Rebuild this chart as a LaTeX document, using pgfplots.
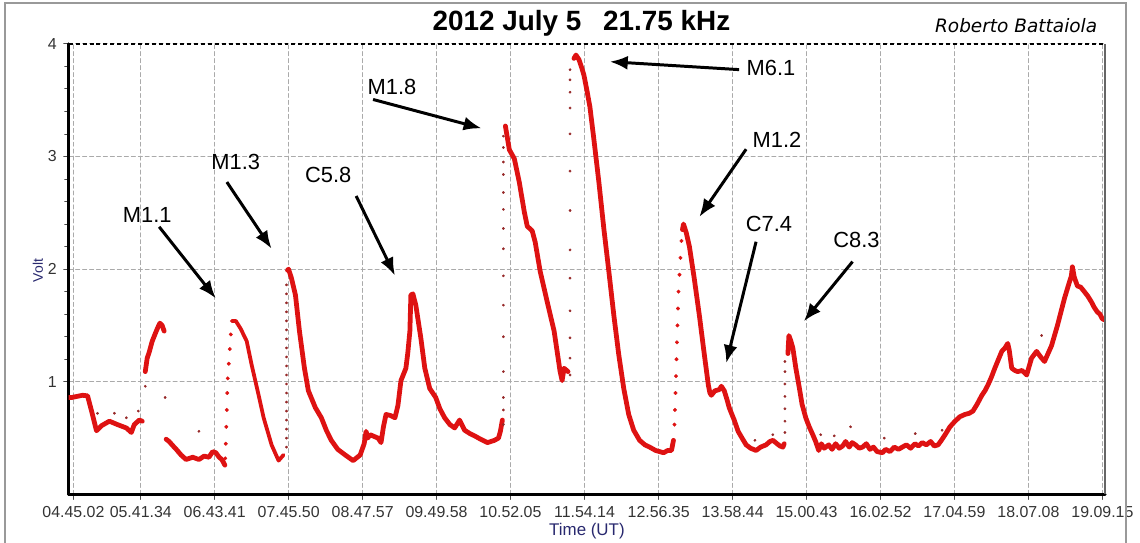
\documentclass[border=0pt]{standalone}
\usepackage{pgfplots}
\pgfplotsset{compat=1.18}
\usepackage{fontspec}
\setmainfont{Liberation Sans}
\newfontfamily\signfont{DejaVu Sans}
\usepackage{graphicx}
\usetikzlibrary{arrows.meta}
\definecolor{sigred}{RGB}{222,18,18}
\definecolor{dotred}{RGB}{150,40,40}
\definecolor{navy}{RGB}{40,40,110}
\definecolor{gridgray}{RGB}{170,170,170}

\begin{document}
\begin{tikzpicture}
\begin{axis}[
  at={(0,0)}, anchor=south west,
  scale only axis, width=521pt, height=226.5pt,
  xmin=4.6832, xmax=19.194, ymin=0, ymax=4,
  axis x line*=bottom, axis y line*=left,
  axis line style={black, line width=1.5pt},
  xtick={4.7506,5.6928,6.7281,7.7639,8.7992,9.8328,10.8681,11.9039,12.9431,13.9789,15.0119,16.0478,17.0831,18.1189,19.1542},
  xticklabels={04.45.02,05.41.34,06.43.41,07.45.50,08.47.57,09.49.58,10.52.05,11.54.14,12.56.35,13.58.44,15.00.43,16.02.52,17.04.59,18.07.08,19.09.15},
  ytick={1,2,3,4}, yticklabels={1,2,3,4},
  minor x tick num=9, minor y tick num=4,
  tick align=outside, major tick length=2.5pt, minor tick length=2pt,
  tick style={black!70, line width=0.4pt},
  ticklabel style={font=\fontsize{8}{9}\selectfont, text=black!80},
  grid=major,
  major grid style={gridgray, dash pattern=on 2pt off 1.5pt, line width=0.5pt},
  line join=round, line cap=round,
  sig/.style={sigred, line width=2.4pt},
  dots/.style={only marks, mark=*, line width=0.2pt},
]
% signal segments
\addplot[sig] coordinates {
(4.683,0.86) (4.725,0.86) (4.800,0.87) (4.878,0.88) (4.948,0.875) (5.004,0.74)
(5.073,0.565) (5.143,0.61) (5.254,0.65) (5.366,0.62) (5.491,0.59) (5.561,0.55)
(5.602,0.62) (5.672,0.66) (5.714,0.65)};
\addplot[sig] coordinates {
(5.756,1.09) (5.783,1.21) (5.810,1.26) (5.853,1.36) (5.923,1.47) (5.960,1.52)
(5.992,1.50) (6.020,1.45)};
\addplot[sig] coordinates {
(6.048,0.49) (6.090,0.47) (6.131,0.44) (6.190,0.40) (6.257,0.35) (6.327,0.31)
(6.420,0.33) (6.507,0.31) (6.580,0.34) (6.647,0.33) (6.700,0.38) (6.744,0.37)
(6.790,0.33) (6.828,0.31) (6.870,0.26)};
\addplot[sig, line width=1.9pt] coordinates {
(6.967,1.54) (7.023,1.54) (7.092,1.47) (7.176,1.36) (7.245,1.15) (7.343,0.88)
(7.413,0.68) (7.524,0.44) (7.622,0.30) (7.691,0.35)};
\addplot[sig] coordinates {
(7.747,1.99) (7.761,2.00) (7.802,1.92) (7.858,1.77) (7.914,1.45) (7.984,1.12)
(8.039,0.92) (8.137,0.77) (8.221,0.68) (8.290,0.57) (8.360,0.48) (8.450,0.40)
(8.555,0.35) (8.666,0.30) (8.764,0.35) (8.820,0.45) (8.847,0.56) (8.870,0.50)
(8.903,0.53) (9.014,0.50) (9.056,0.46) (9.090,0.60) (9.126,0.71) (9.190,0.70)
(9.251,0.68) (9.293,0.79) (9.335,1.01) (9.404,1.12) (9.430,1.25) (9.460,1.45)
(9.474,1.77) (9.502,1.78) (9.543,1.68) (9.613,1.39) (9.669,1.12) (9.738,0.94)
(9.822,0.86) (9.880,0.76) (9.947,0.68) (10.020,0.62) (10.087,0.59) (10.156,0.66)
(10.226,0.57) (10.300,0.54) (10.365,0.52) (10.450,0.49) (10.546,0.46)
(10.644,0.48) (10.700,0.50) (10.727,0.56) (10.755,0.66)};
\addplot[sig] coordinates {
(10.797,3.27) (10.852,3.06) (10.922,2.98) (10.992,2.77) (11.061,2.51)
(11.103,2.38) (11.172,2.34) (11.214,2.24) (11.284,1.98) (11.382,1.71)
(11.479,1.45) (11.521,1.27) (11.563,1.09) (11.591,1.01) (11.618,1.12) (11.674,1.09)};
\addplot[sig] coordinates {
(11.757,3.87) (11.785,3.90) (11.827,3.86) (11.869,3.78) (11.897,3.72)
(11.940,3.58) (11.980,3.44) (12.036,3.15) (12.106,2.77) (12.175,2.36)
(12.245,1.98) (12.315,1.59) (12.384,1.24) (12.454,0.94) (12.523,0.71)
(12.593,0.57) (12.676,0.48) (12.750,0.44) (12.816,0.42) (12.900,0.39)
(13.011,0.37) (13.070,0.39) (13.122,0.39) (13.150,0.48)};
\addplot[sig] coordinates {
(13.276,2.35) (13.290,2.40) (13.330,2.32) (13.373,2.20) (13.440,1.92)
(13.512,1.59) (13.580,1.25) (13.638,0.97) (13.660,0.90) (13.680,0.88)
(13.730,0.92) (13.791,0.93) (13.820,0.96) (13.861,0.92) (13.900,0.84)
(13.930,0.77) (14.000,0.66) (14.055,0.56) (14.110,0.50) (14.167,0.44)
(14.230,0.41) (14.306,0.39) (14.370,0.42) (14.446,0.44) (14.500,0.47)
(14.543,0.48) (14.600,0.45) (14.640,0.43) (14.682,0.42) (14.700,0.45)};
\addplot[sig] coordinates {
(14.752,1.25) (14.766,1.41) (14.794,1.36) (14.821,1.30) (14.863,1.12)
(14.905,0.97) (14.950,0.80) (15.002,0.68) (15.050,0.60) (15.100,0.53)
(15.140,0.47) (15.183,0.39) (15.220,0.45) (15.260,0.41) (15.323,0.44)
(15.370,0.40) (15.420,0.45) (15.470,0.41) (15.518,0.43) (15.560,0.47)
(15.610,0.42) (15.650,0.46) (15.699,0.44) (15.750,0.41) (15.796,0.42)
(15.850,0.45) (15.900,0.40) (15.950,0.42) (16.000,0.38) (16.075,0.37)
(16.120,0.40) (16.180,0.38) (16.240,0.42) (16.300,0.40) (16.353,0.42)
(16.410,0.44) (16.470,0.41) (16.530,0.45) (16.580,0.43) (16.632,0.46)
(16.690,0.44) (16.750,0.47) (16.800,0.43) (16.854,0.44) (16.900,0.48)
(16.952,0.53) (17.020,0.60) (17.091,0.65) (17.160,0.69) (17.230,0.71)
(17.290,0.72) (17.342,0.74) (17.400,0.80) (17.467,0.88) (17.510,0.92)
(17.551,0.97) (17.600,1.04) (17.648,1.12) (17.700,1.20) (17.746,1.27)
(17.790,1.30) (17.829,1.34) (17.850,1.28) (17.885,1.12) (17.930,1.10)
(17.968,1.09) (18.030,1.10) (18.094,1.06) (18.130,1.14) (18.163,1.21)
(18.233,1.27) (18.290,1.22) (18.344,1.18) (18.400,1.26) (18.442,1.32)
(18.525,1.50) (18.623,1.74) (18.690,1.88) (18.720,1.94) (18.734,2.02)
(18.760,1.93) (18.804,1.85) (18.850,1.84) (18.901,1.80) (18.950,1.76)
(18.999,1.71) (19.040,1.66) (19.082,1.62) (19.120,1.60) (19.152,1.56) (19.180,1.55)};
% fast rises, sampled sparsely
\addplot[dots, mark size=0.9pt, sigred] coordinates {
(6.876,0.32) (6.883,0.45) (6.890,0.60) (6.897,0.75) (6.904,0.90) (6.911,1.03)
(6.925,1.16) (6.939,1.29) (6.953,1.42)
(13.164,0.62) (13.171,0.75) (13.178,0.90) (13.185,1.05) (13.192,1.20)
(13.199,1.35) (13.206,1.50) (13.213,1.65) (13.220,1.80) (13.234,1.95)
(13.248,2.10) (13.262,2.25)};
% isolated samples
\addplot[dots, mark size=0.6pt, dotred] coordinates {
(7.733,0.42) (7.733,0.50) (7.733,0.58) (7.733,0.66) (7.733,0.74) (7.733,0.82)
(7.733,0.90) (7.733,0.98) (7.733,1.06) (7.733,1.14) (7.733,1.22) (7.733,1.30)
(7.733,1.38) (7.733,1.46) (7.733,1.54) (7.733,1.62) (7.733,1.70) (7.733,1.78)
(7.733,1.86)
(10.769,0.62) (10.769,0.75) (10.769,0.86) (10.769,1.09) (10.769,1.40)
(10.769,1.68) (10.769,1.94) (10.769,2.18) (10.769,2.36) (10.769,2.53)
(10.769,2.68) (10.769,2.84) (10.769,2.95) (10.769,3.08) (10.769,3.18)
(11.702,1.06) (11.702,1.21) (11.702,1.39) (11.702,1.63) (11.702,1.92)
(11.702,2.17) (11.702,2.52) (11.702,2.87) (11.702,3.20) (11.702,3.43)
(11.702,3.57) (11.702,3.68) (11.702,3.77)
(14.710,0.55) (14.710,0.65) (14.710,0.76) (14.710,0.87) (14.710,0.98)
(14.710,1.09) (14.710,1.18)
(5.087,0.72) (5.324,0.72) (5.491,0.68) (5.658,0.74) (5.756,0.96) (6.034,0.86)
(6.507,0.56) (14.290,0.48) (14.540,0.53) (15.211,0.53) (15.400,0.52)
(15.629,0.60) (16.100,0.50) (16.534,0.54) (16.910,0.57) (18.303,1.41)};
\end{axis}

\begin{scope}[x=0.5pt, y=-0.5pt, shift={(-34.5pt,248.5pt)}]
\useasboundingbox (0,0) rectangle (1140,545);
% window frame
\draw[black!40, line width=1pt] (5,560) -- (5,3) -- (1132,3) -- (1132,560);
% plot box top and right
\draw[black, line width=0.8pt, dash pattern=on 2pt off 1.5pt] (69,44) -- (1111,44);
\draw[black!60, line width=0.8pt] (1111,44) -- (1111,497);
% titles
\node[font=\fontsize{14}{16}\selectfont\bfseries] at (584.5,23)
  {2012 July 5\hspace{11pt}21.75 kHz};
\node[anchor=east] at (1110,26)
  {\resizebox{81.5pt}{!}{\signfont\itshape Roberto Battaiola}};
\node[font=\fontsize{8.5}{10}\selectfont, text=navy] at (590,534) {Time (UT)};
\node[font=\fontsize{7}{8}\selectfont, text=navy, rotate=90] at (38,272) {Volt};
% flare annotations
\tikzset{flare/.style={-{Latex[length=9pt,width=7pt]}, line width=1.5pt, black},
         lab/.style={font=\fontsize{11}{13}\selectfont}}
\node[lab] at (148,216) {M1.1};
\draw[flare] (160,228) -- (217,300);
\node[lab] at (237,163) {M1.3};
\draw[flare] (228,183) -- (273,250);
\node[lab] at (330,176) {C5.8};
\draw[flare] (358,197) -- (397,277);
\node[lab] at (394,87) {M1.8};
\draw[flare] (375,100) -- (484,129);
\node[lab] at (775,68) {M6.1};
\draw[flare] (743,70) -- (613,62);
\node[lab] at (781,141) {M1.2};
\draw[flare] (750,150) -- (703,218);
\node[lab] at (773,225) {C7.4};
\draw[flare] (760,243) -- (730,365);
\node[lab] at (861,241) {C8.3};
\draw[flare] (857,263) -- (808,323);
\end{scope}
\end{tikzpicture}
\end{document}
